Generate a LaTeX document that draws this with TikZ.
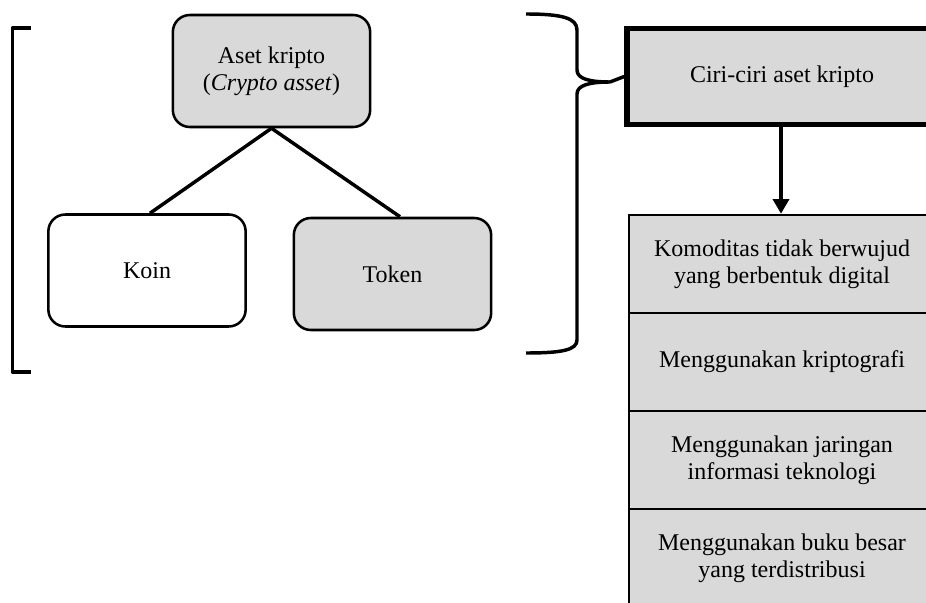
\documentclass[tikz,border=0pt]{standalone}
\usepackage{fontspec}
\setmainfont{Liberation Serif}
\usetikzlibrary{arrows.meta}
\definecolor{boxgray}{HTML}{D9D9D9}
\begin{document}
\begin{tikzpicture}[x=0.75pt,y=-0.75pt,
  txt/.style={font=\fontsize{18}{20.5}\selectfont, align=center, inner sep=0pt},
  roundbox/.style={txt, draw, line width=1.9pt, rounded corners=12.75pt,
    minimum width=148pt, minimum height=84pt},
  listbox/.style={txt, draw, fill=boxgray, line width=1.9pt,
    minimum width=229.5pt, minimum height=73.5pt},
  link/.style={line width=2.6pt},
  bracket/.style={line width=2.6pt}]
\useasboundingbox (0,0) rectangle (926,603);

% classification tree
\node[roundbox, fill=boxgray] (aset) at (271.5,71) {Aset kripto\\(\textit{Crypto asset})};
\node[roundbox, fill=white] (koin) at (147,270.5) {Koin};
\node[roundbox, fill=boxgray] (token) at (392.5,274) {Token};
\draw[link] (aset.south) -- ([xshift=2.25pt]koin.north);
\draw[link] (aset.south) -- ([xshift=5.6pt]token.north);

% square bracket on the left
\draw[bracket, line join=round] (31,28) -- (12.5,28) -- (12.5,372) -- (31,372);

% curly brace gathering the tree
\coordinate (tip) at (610,82);
\draw[bracket, line join=round]
  (526,14) .. controls (562,14) and (577,18) .. (577,30)
  -- (577,70) .. controls (577,79) and (590,82) .. (tip)
  .. controls (590,82) and (577,85) .. (577,94)
  -- (577,340) .. controls (577,350) and (562,353) .. (526,353);

% characteristics
\node[txt, draw, fill=boxgray, line width=4.1pt, minimum width=232.5pt, minimum height=72pt]
  (ciri) at (782,76.5) {Ciri-ciri aset kripto};
\draw[bracket] (tip) -- (ciri.west);

\node[listbox] (c1) at (782,264) {Komoditas tidak berwujud\\yang berbentuk digital};
\node[listbox] (c2) at (782,362) {Menggunakan kriptografi};
\node[listbox] (c3) at (782,460) {Menggunakan jaringan\\informasi teknologi};
\node[listbox] (c4) at (782,558) {Menggunakan buku besar\\yang terdistribusi};

\draw[line width=2.6pt, -{Triangle[width=12pt,length=11pt]}] ([xshift=-0.75pt]ciri.south) -- ([xshift=-0.75pt]c1.north);
\end{tikzpicture}
\end{document}
